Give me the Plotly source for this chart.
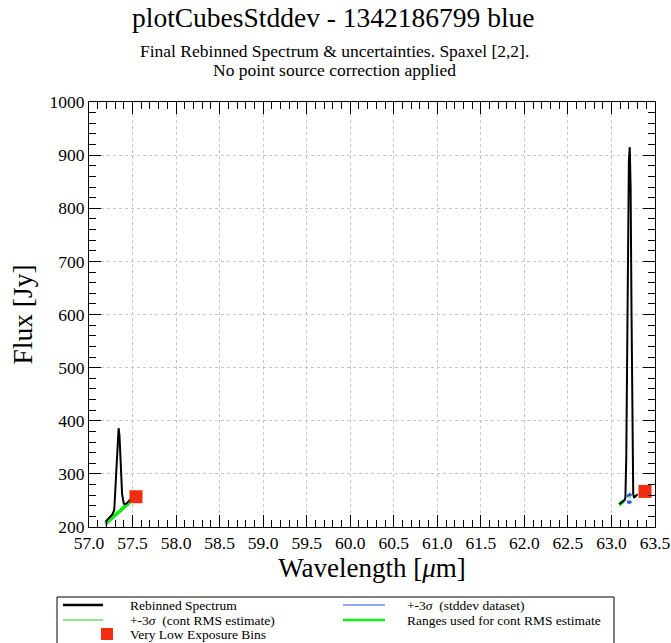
import plotly.graph_objects as go

# ---------------- data ----------------
left_wl = [57.19, 57.21, 57.23, 57.25, 57.27, 57.29, 57.30, 57.31, 57.32, 57.33, 57.34, 57.35, 57.36, 57.37, 57.38, 57.40, 57.42, 57.44, 57.46, 57.48]
left_flux = [210, 214, 216, 221, 224, 232, 262, 300, 345, 372, 386, 372, 330, 290, 262, 244, 243, 246, 249, 253]

right_wl = [63.09, 63.11, 63.13, 63.15, 63.16, 63.17, 63.18, 63.19, 63.20, 63.21, 63.22, 63.23, 63.24, 63.25, 63.26, 63.28, 63.30]
right_flux = [243, 246, 248, 250, 255, 330, 520, 760, 890, 915, 840, 610, 380, 262, 255, 258, 262]

low_wl = [57.54, 63.385]
low_flux = [257, 267]

range_left_wl = [57.19, 57.47]
range_left_flux = [206, 247]
range_right_wl = [63.09, 63.14]
range_right_flux = [242, 249]

rms_up_wl = [57.19, 57.47, None, 63.09, 63.14, None, 63.20, 63.22]
rms_up_flux = [209, 250, None, 245, 252, None, 255, 256]
rms_lo_wl = [57.19, 57.47, None, 63.09, 63.14, None, 63.20, 63.22]
rms_lo_flux = [203, 244, None, 239, 246, None, 250, 251]

sd_up_wl = [57.19, 57.21, None, 63.18, 63.19, 63.20, 63.21, 63.22, 63.23]
sd_up_flux = [207, 211, None, 256, 262, 257, 264, 258, 262]
sd_lo_wl = [57.19, 57.21, None, 63.18, 63.19, 63.20, 63.21, 63.22, 63.23]
sd_lo_flux = [203, 206, None, 250, 244, 249, 243, 249, 245]

x_range = [57.0, 63.5]
y_range = [200, 1000]

FONT = "Liberation Serif, Times New Roman, serif"
RED = "#f22c10"
GREEN_THIN = "#22cc22"
GREEN_THICK = "#11ee11"
BLUE = "#2255ee"

fig = go.Figure()

# thin green +-3 sigma (cont RMS)
fig.add_trace(go.Scatter(x=rms_up_wl, y=rms_up_flux, mode="lines", line=dict(color=GREEN_THIN, width=1), showlegend=False))
fig.add_trace(go.Scatter(x=rms_lo_wl, y=rms_lo_flux, mode="lines", line=dict(color=GREEN_THIN, width=1), showlegend=False))
# thick green ranges
fig.add_trace(go.Scatter(x=range_left_wl, y=range_left_flux, mode="lines", line=dict(color=GREEN_THICK, width=3.5), showlegend=False))
fig.add_trace(go.Scatter(x=range_right_wl, y=range_right_flux, mode="lines", line=dict(color=GREEN_THICK, width=3.5), showlegend=False))
# blue stddev
fig.add_trace(go.Scatter(x=sd_up_wl, y=sd_up_flux, mode="lines", line=dict(color=BLUE, width=1.2), showlegend=False))
fig.add_trace(go.Scatter(x=sd_lo_wl, y=sd_lo_flux, mode="lines", line=dict(color=BLUE, width=1.2), showlegend=False))
# spectrum
fig.add_trace(go.Scatter(x=left_wl, y=left_flux, mode="lines", line=dict(color="black", width=2), showlegend=False))
fig.add_trace(go.Scatter(x=right_wl, y=right_flux, mode="lines", line=dict(color="black", width=2), showlegend=False))
# low exposure bins
fig.add_trace(go.Scatter(x=low_wl, y=low_flux, mode="markers",
                         marker=dict(symbol="square", size=13, color=RED, line=dict(width=0)), showlegend=False))
# invisible trace to carry the mirrored (top/right) tick axes
fig.add_trace(go.Scatter(x=x_range, y=y_range, xaxis="x2", yaxis="y2", mode="markers",
                         marker=dict(opacity=0), hoverinfo="skip", showlegend=False))

# ---------------- layout ----------------
L, R, T, B = 89, 16, 102, 116
W, H = 671, 643
pw, ph = W - L - R, H - T - B


def px(x):
    return (x - L) / pw


def py(y):
    return (H - B - y) / ph


tick_common = dict(ticks="inside", ticklen=12, tickcolor="black", tickwidth=1, zeroline=False, automargin=False)

fig.update_layout(
    width=W, height=H,
    margin=dict(l=L, r=R, t=T, b=B),
    paper_bgcolor="white", plot_bgcolor="white",
    showlegend=False,
    xaxis=dict(range=x_range, dtick=0.5, tickformat=".1f",
               showline=True, linecolor="black", linewidth=1, mirror=True,
               showgrid=True, gridcolor="#c4c4c4", griddash="dot", gridwidth=1,
               tickfont=dict(family=FONT, size=17.5, color="black"),
               minor=dict(ticks="inside", dtick=0.1, ticklen=7, tickcolor="black", showgrid=False),
               title=dict(text="Wavelength [<i>μ</i>m]", font=dict(family=FONT, size=27, color="black"), standoff=4),
               **tick_common),
    yaxis=dict(range=y_range, dtick=100,
               showline=True, linecolor="black", linewidth=1, mirror=True,
               showgrid=True, gridcolor="#c4c4c4", griddash="dot", gridwidth=1,
               tickfont=dict(family=FONT, size=17.5, color="black"),
               minor=dict(ticks="inside", dtick=20, ticklen=7, tickcolor="black", showgrid=False),
               title=dict(text="Flux [Jy]", font=dict(family=FONT, size=27.5, color="black"), standoff=8),
               **tick_common),
    xaxis2=dict(range=x_range, dtick=0.5, overlaying="x", side="top", showticklabels=False, showgrid=False,
                minor=dict(ticks="inside", dtick=0.1, ticklen=7, tickcolor="black", showgrid=False),
                **tick_common),
    yaxis2=dict(range=y_range, dtick=100, overlaying="y", side="right", showticklabels=False, showgrid=False,
                minor=dict(ticks="inside", dtick=20, ticklen=7, tickcolor="black", showgrid=False),
                **tick_common),
)

annotations = [
    dict(text="plotCubesStddev - 1342186799 blue", x=px(333), y=py(18), font=dict(family=FONT, size=27.5, color="black")),
    dict(text="Final Rebinned Spectrum &amp; uncertainties. Spaxel [2,2].", x=px(334), y=py(51), font=dict(family=FONT, size=17.5, color="black")),
    dict(text="No point source correction applied", x=px(334), y=py(70), font=dict(family=FONT, size=17.5, color="black")),
]
for a in annotations:
    a.update(xref="paper", yref="paper", showarrow=False, xanchor="center", yanchor="middle")

# legend drawn manually
leg_font = dict(family=FONT, size=13.5, color="black")
leg_items = [
    ("Rebinned Spectrum", 128, 605),
    ("+-3<i>σ</i>  (cont RMS estimate)", 128, 620),
    ("Very Low Exposure Bins", 128, 634),
    ("+-3<i>σ</i>  (stddev dataset)", 405, 605),
    ("Ranges used for cont RMS estimate", 405, 620),
]
for text, x, y in leg_items:
    annotations.append(dict(text=text, x=px(x), y=py(y), xref="paper", yref="paper", showarrow=False,
                            xanchor="left", yanchor="middle", font=leg_font))
fig.update_layout(annotations=annotations)

shapes = [
    dict(type="rect", x0=px(57), x1=px(614), y0=py(597), y1=py(650), line=dict(color="black", width=1)),
    dict(type="line", x0=px(63), x1=px(103), y0=py(605), y1=py(605), line=dict(color="black", width=2.5)),
    dict(type="line", x0=px(63), x1=px(103), y0=py(620), y1=py(620), line=dict(color=GREEN_THIN, width=1)),
    dict(type="rect", x0=px(101), x1=px(113), y0=py(628), y1=py(640), fillcolor=RED, line=dict(width=0)),
    dict(type="line", x0=px(343), x1=px(385), y0=py(605), y1=py(605), line=dict(color=BLUE, width=1.2)),
    dict(type="line", x0=px(343), x1=px(385), y0=py(620), y1=py(620), line=dict(color=GREEN_THICK, width=2.5)),
]
for s in shapes:
    s.update(xref="paper", yref="paper")
fig.update_layout(shapes=shapes)

fig.write_html("out.html")
